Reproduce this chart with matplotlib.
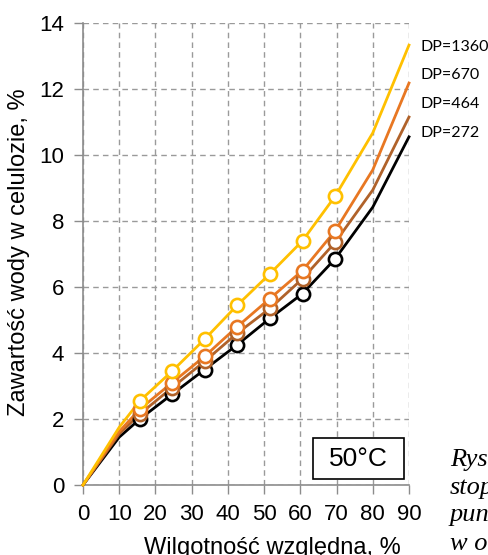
import matplotlib
matplotlib.use("Agg")
import matplotlib.pyplot as plt
from matplotlib.ticker import MultipleLocator
from matplotlib.patches import Rectangle

# wilgotnosc wzgledna, % (punkty pomiarowe)
rh_pts = [15.7, 24.6, 33.6, 42.6, 51.6, 60.6, 69.6]
# punkty krzywej bez znacznikow
rh_start = [0, 10]
rh_end = [80, 90]

labels = ["DP=1360", "DP=670", "DP=464", "DP=272"]
colors = ["#FFC000", "#E87722", "#B0622A", "#000000"]

dp1360_pts = [2.55, 3.45, 4.42, 5.45, 6.40, 7.40, 8.75]
dp670_pts = [2.30, 3.10, 3.90, 4.80, 5.65, 6.50, 7.70]
dp464_pts = [2.15, 2.95, 3.75, 4.60, 5.35, 6.25, 7.35]
dp272_pts = [2.00, 2.75, 3.50, 4.25, 5.05, 5.80, 6.85]

dp1360_start = [0, 1.75]
dp670_start = [0, 1.62]
dp464_start = [0, 1.55]
dp272_start = [0, 1.45]

dp1360_end = [10.67, 13.33]
dp670_end = [9.55, 12.18]
dp464_end = [8.94, 11.15]
dp272_end = [8.42, 10.55]

series = [
    (dp1360_start, dp1360_pts, dp1360_end),
    (dp670_start, dp670_pts, dp670_end),
    (dp464_start, dp464_pts, dp464_end),
    (dp272_start, dp272_pts, dp272_end),
]

W, H = 488, 555
fig = plt.figure(figsize=(W / 100, H / 100), dpi=100)
ax = fig.add_axes([83 / W, 1 - 485 / H, (409 - 83) / W, (485 - 23) / H])

x_line = rh_start + rh_pts + rh_end
# rysujemy od najnizszej, zeby zolta byla na wierzchu
for (s, p, e), c in reversed(list(zip(series, colors))):
    ax.plot(x_line, s + p + e, color=c, lw=2.0, zorder=3, clip_on=False)
    ax.plot(rh_pts, p, 'o', color=c, mfc='white', mec=c, ms=9.5, mew=1.9, zorder=4)

ax.set_xlim(0, 90)
ax.set_ylim(0, 14)
ax.xaxis.set_major_locator(MultipleLocator(10))
ax.yaxis.set_major_locator(MultipleLocator(2))

ax.grid(True, color="#9a9a9a", linestyle=(0, (4, 3)), lw=1)
ax.set_axisbelow(True)
for sp in ["top", "right"]:
    ax.spines[sp].set_visible(False)
for sp in ["left", "bottom"]:
    ax.spines[sp].set_color("#8c8c8c")
    ax.spines[sp].set_linewidth(1.2)

ax.tick_params(direction="out", length=6.5, width=1, color="#8c8c8c",
               labelsize=16, pad=7)
for t in ax.get_xticklabels() + ax.get_yticklabels():
    t.set_fontfamily("Liberation Sans")

ax.set_ylabel("Zawartość wody w celulozie, %", fontsize=17,
              fontfamily="Liberation Sans")
ax.yaxis.set_label_coords(-0.163, 0.505)
ax.set_xlabel("Wilgotność względna, %", fontsize=17,
              fontfamily="Liberation Sans")
ax.xaxis.set_label_coords(0.58, -0.113)

# podpisy serii
label_y = [47, 75, 104, 133]
for lab, py in zip(labels, label_y):
    fig.text(420 / W, 1 - py / H, lab, fontsize=11.5, fontfamily="Lato",
             va="center", ha="left")

ax.add_patch(Rectangle((63.5, 0.18), 25.1, 1.24, fc="white", ec="black",
                       lw=1.2, zorder=5))
ax.text(76.1, 0.8, "50°C", fontsize=19, fontfamily="Liberation Sans",
        ha="center", va="center", zorder=6)

# fragment podpisu rysunku z prawej strony (w oryginale tez uciety)
caption = ["Rys", "stop", "pun", "w o"]
cap_y = [466, 494, 521, 550]
for t, py in zip(caption, cap_y):
    fig.text(450 / W, 1 - py / H, t, fontsize=19, fontfamily="Liberation Serif",
             style="italic", va="baseline", ha="left")

fig.savefig("out.png", dpi=100)
